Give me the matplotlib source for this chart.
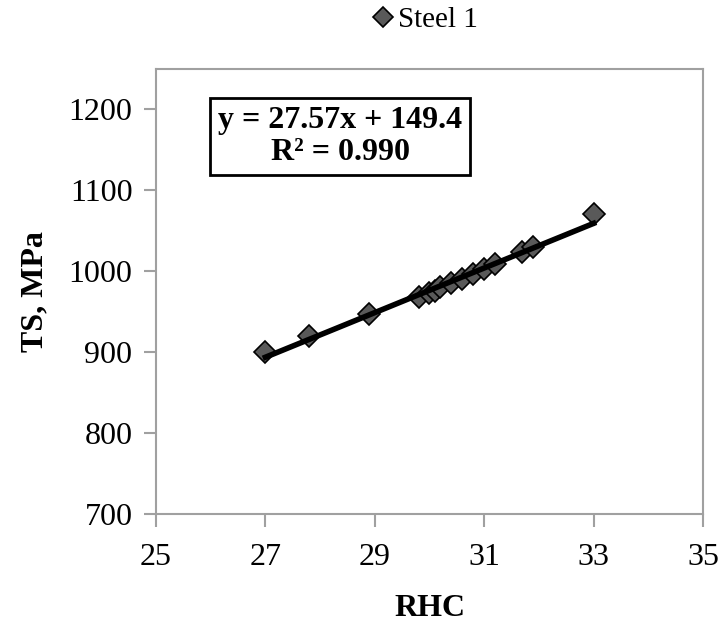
import numpy as np
import matplotlib.pyplot as plt

# RHC vs tensile strength, steel 1
rhc = [27.0, 27.8, 28.9, 29.8, 30.0, 30.1, 30.2, 30.4, 30.6, 30.8, 31.0, 31.2, 31.7, 31.9, 33.0]
ts = [900, 920, 947, 968, 973, 976, 980, 985, 990, 997, 1003, 1009, 1024, 1030, 1071]

slope = 27.57
intercept = 149.4
r2 = 0.990

plt.rcParams['font.family'] = ['Liberation Serif', 'DejaVu Serif']

fig = plt.figure(figsize=(7.23, 6.28), dpi=100)
ax = fig.add_axes([0.2158, 0.1815, 0.7565, 0.7086])

ax.plot(rhc, ts, linestyle='none', marker='D', markersize=11,
        markerfacecolor='#595959', markeredgecolor='black', markeredgewidth=1.2,
        label='Steel 1', zorder=3)

# linear trendline
xf = np.array([min(rhc), max(rhc)])
ax.plot(xf, slope * xf + intercept, color='black', linewidth=4, zorder=4)

ax.set_xlim(25, 35)
ax.set_ylim(700, 1250)
ax.set_xticks([25, 27, 29, 31, 33, 35])
ax.set_yticks([700, 800, 900, 1000, 1100, 1200])
ax.tick_params(direction='out', length=9, width=1.5, color='#a0a0a0',
               labelsize=23)
ax.tick_params(axis='x', pad=12)
ax.tick_params(axis='y', pad=8)
for s in ax.spines.values():
    s.set_color('#a0a0a0')
    s.set_linewidth(1.5)

ax.set_xlabel('RHC', fontsize=23, fontweight='bold', labelpad=16)
ax.set_ylabel('TS, MPa', fontsize=23, fontweight='bold', labelpad=14)

ax.text(0.337, 0.848, f'y = {slope:.2f}x + {intercept:.1f}\nR² = {r2:.3f}',
        transform=ax.transAxes, ha='center', va='center', fontsize=23,
        fontweight='bold', linespacing=1.15,
        bbox=dict(boxstyle='square,pad=0.25', facecolor='white',
                  edgecolor='black', linewidth=2))

fig.legend(loc='center', bbox_to_anchor=(0.589, 0.968), frameon=False,
           fontsize=21, handlelength=0.6, handletextpad=0.2, markerscale=0.9)

fig.savefig('out.png', dpi=100)
